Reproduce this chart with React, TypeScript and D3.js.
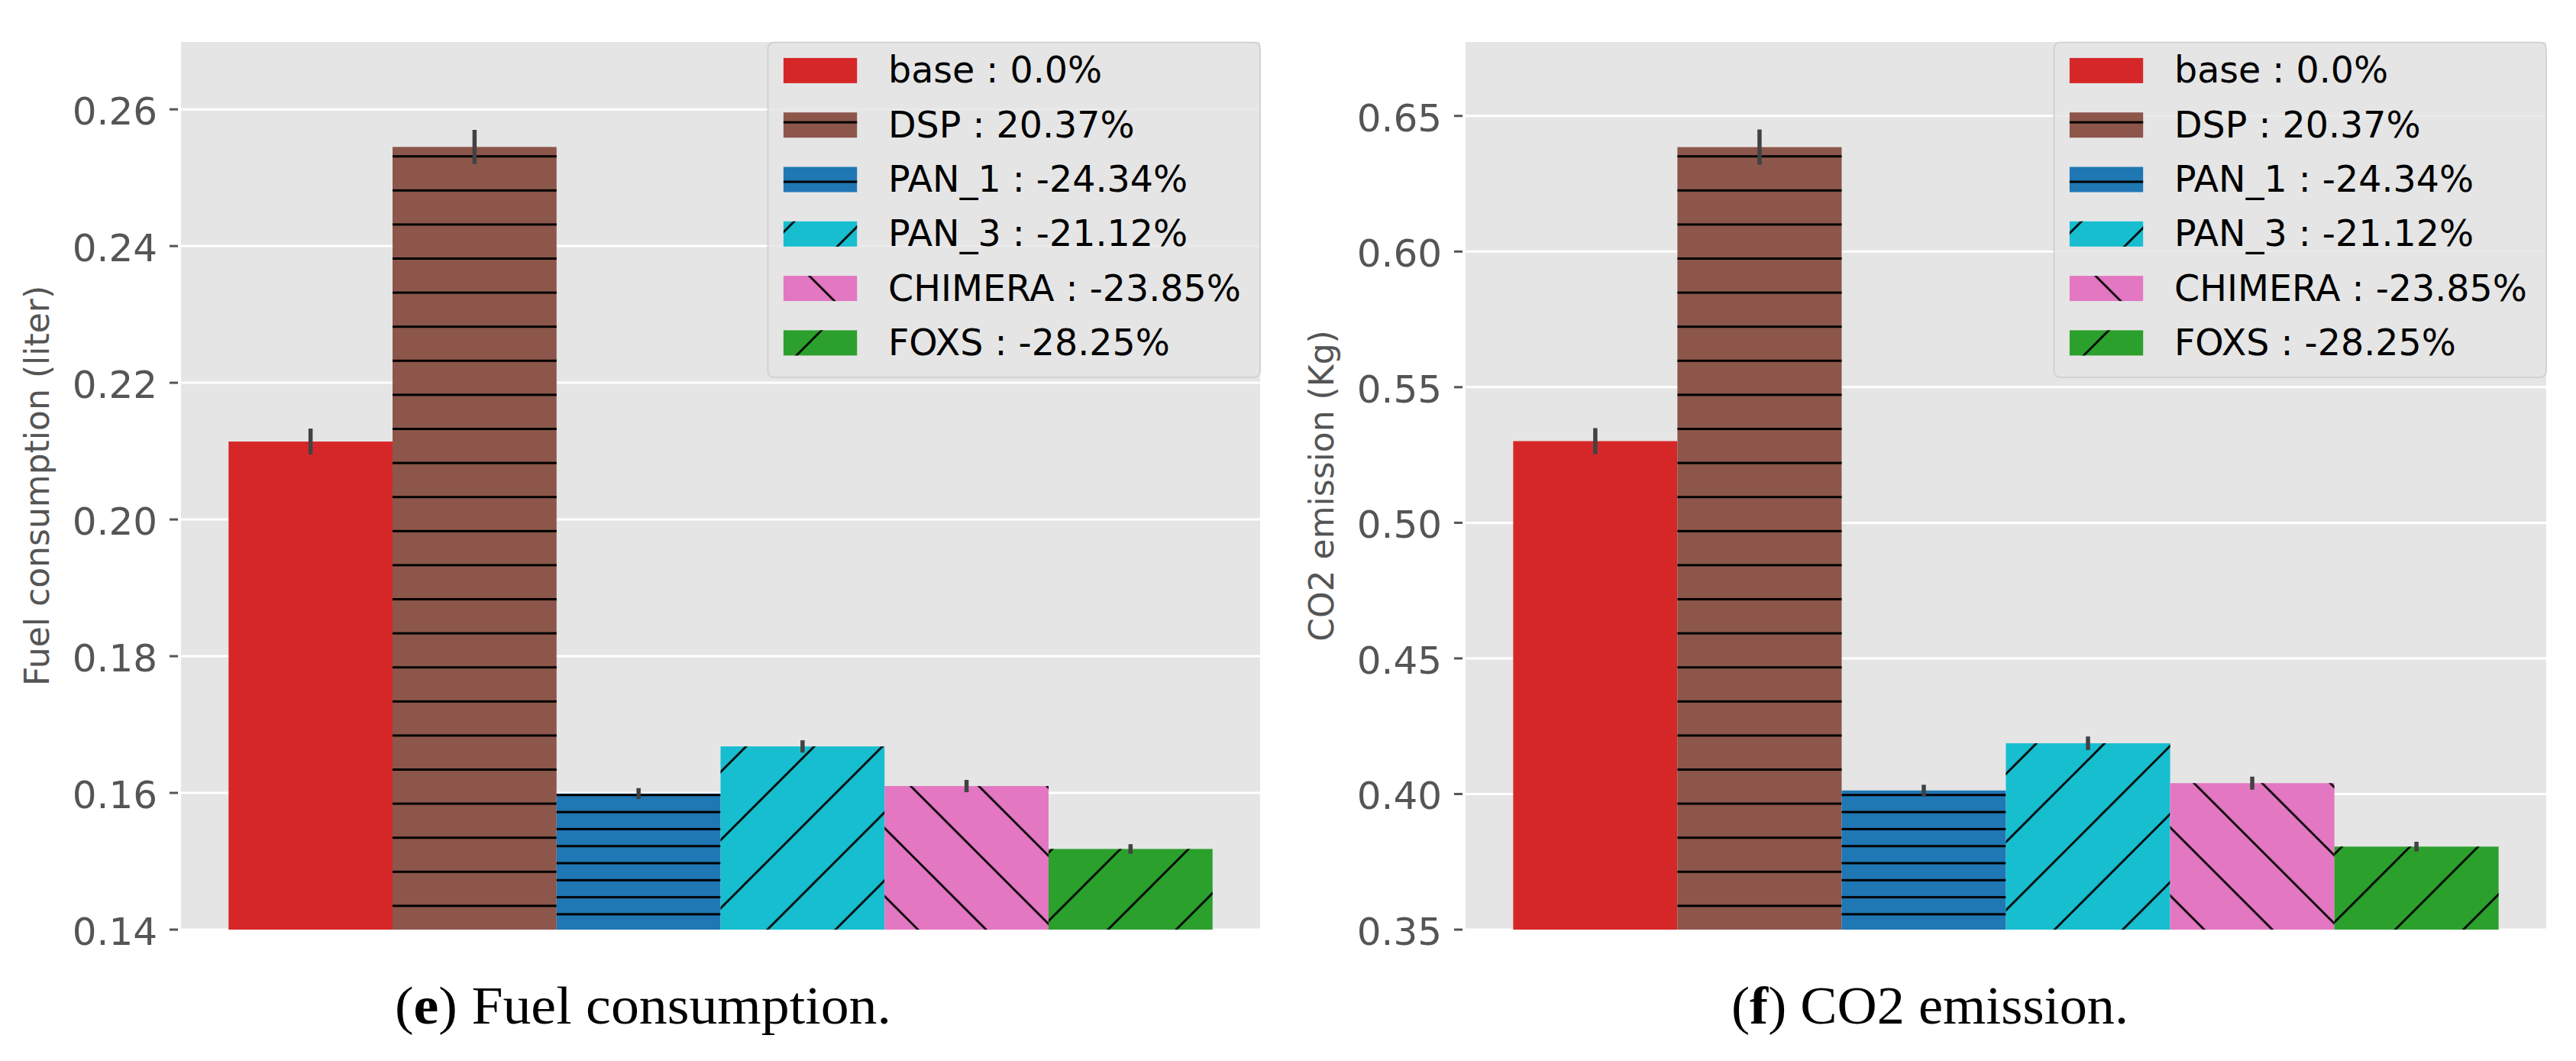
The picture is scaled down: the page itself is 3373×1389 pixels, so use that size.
import { useEffect, useRef } from "react";
import * as d3 from "d3";

const categories = ["base", "DSP", "PAN_1", "PAN_3", "CHIMERA", "FOXS"];
const percentLabels = ["0.0%", "20.37%", "-24.34%", "-21.12%", "-23.85%", "-28.25%"];
const barColors = ["#d62728", "#8c564b", "#1f77b4", "#17becf", "#e377c2", "#2ca02c"];
const hatches = ["", "--", "----", "/", "\\", "/"];

const fuelMeans = [0.2114, 0.2545, 0.1599, 0.1668, 0.161, 0.1518];
const fuelErrs = [0.0019, 0.0025, 0.0008, 0.0009, 0.0009, 0.0007];
const fuelTicks = [0.14, 0.16, 0.18, 0.2, 0.22, 0.24, 0.26];

const co2Means = [0.5301, 0.6385, 0.4013, 0.4187, 0.404, 0.3806];
const co2Errs = [0.0048, 0.0065, 0.0021, 0.0025, 0.0024, 0.0018];
const co2Ticks = [0.35, 0.4, 0.45, 0.5, 0.55, 0.6, 0.65];

const W = 3373;
const H = 1389;
const P = 89.2; // hatch period

const panels = [
  {
    key: "fuel",
    x0: 237,
    x1: 1650,
    yMin: 0.14,
    means: fuelMeans,
    errs: fuelErrs,
    ticks: fuelTicks,
    ylabel: "Fuel consumption (liter)",
    tag: "e",
    caption: " Fuel consumption.",
    capX: 517,
    capLen: 650,
    fwd: 81,
    back: 74.2,
  },
  {
    key: "co2",
    x0: 1919,
    x1: 3334,
    yMin: 0.35,
    means: co2Means,
    errs: co2Errs,
    ticks: co2Ticks,
    ylabel: "CO2 emission (Kg)",
    tag: "f",
    caption: " CO2 emission.",
    capX: 2267,
    capLen: 520,
    fwd: 71.7,
    back: 63.6,
  },
];

export default function App() {
  const svgRef = useRef<SVGSVGElement>(null);

  useEffect(() => {
    if (!svgRef.current) return;
    const svg = d3.select(svgRef.current);
    svg.selectAll("*").remove();

    const top = 55;
    const bottom = 1217;
    const font = "DejaVu Sans";
    const defs = svg.append("defs");

    panels.forEach((p) => {
      // hatch patterns, anchored in page space like matplotlib's
      const hz = (id: string, h: number, phase: number) => {
        const pat = defs
          .append("pattern")
          .attr("id", id)
          .attr("patternUnits", "userSpaceOnUse")
          .attr("x", 0)
          .attr("y", phase - h / 2)
          .attr("width", 50)
          .attr("height", h);
        pat.append("rect").attr("x", 0).attr("y", h / 2 - 1.5).attr("width", 50).attr("height", 3).attr("fill", "#000");
      };
      hz(`${p.key}-h2`, P / 2, 26.3);
      hz(`${p.key}-h4`, P / 4, 15);

      const fwd = defs
        .append("pattern")
        .attr("id", `${p.key}-fwd`)
        .attr("patternUnits", "userSpaceOnUse")
        .attr("x", p.fwd)
        .attr("y", 0)
        .attr("width", P)
        .attr("height", P);
      fwd
        .append("path")
        .attr("d", `M-3,3L3,-3M0,${P}L${P},0M${P - 3},${P + 3}L${P + 3},${P - 3}`)
        .attr("stroke", "#000")
        .attr("stroke-width", 2.7);

      const back = defs
        .append("pattern")
        .attr("id", `${p.key}-back`)
        .attr("patternUnits", "userSpaceOnUse")
        .attr("x", p.back)
        .attr("y", 0)
        .attr("width", P)
        .attr("height", P);
      back
        .append("path")
        .attr("d", `M0,0L${P},${P}M${P - 3},-3L${P + 3},3M-3,${P - 3}L3,${P + 3}`)
        .attr("stroke", "#000")
        .attr("stroke-width", 2.7);

      const hatchFill = (h: string) =>
        h === "--" ? `url(#${p.key}-h2)` : h === "----" ? `url(#${p.key}-h4)` : h === "/" ? `url(#${p.key}-fwd)` : h === "\\" ? `url(#${p.key}-back)` : null;

      const yMax = d3.max(p.means.map((m, i) => m + p.errs[i])) as number * 1.05;
      const x = d3.scaleBand<string>().domain(categories).range([p.x0, p.x1]).paddingInner(0).paddingOuter(0.29);
      const y = d3.scaleLinear().domain([p.yMin, yMax]).range([bottom, top]);

      const g = svg.append("g");

      g.append("rect")
        .attr("x", p.x0)
        .attr("y", top)
        .attr("width", p.x1 - p.x0)
        .attr("height", bottom - top)
        .attr("fill", "#e5e5e5");

      // grid
      g.selectAll(".grid")
        .data(p.ticks)
        .join("line")
        .attr("x1", p.x0)
        .attr("x2", p.x1)
        .attr("y1", (d) => y(d))
        .attr("y2", (d) => y(d))
        .attr("stroke", "#fff")
        .attr("stroke-width", 3);

      // ticks + labels
      g.selectAll(".tick")
        .data(p.ticks)
        .join("line")
        .attr("x1", p.x0 - 15)
        .attr("x2", p.x0 - 4)
        .attr("y1", (d) => y(d))
        .attr("y2", (d) => y(d))
        .attr("stroke", "#555")
        .attr("stroke-width", 3);

      g.selectAll(".ticklabel")
        .data(p.ticks)
        .join("text")
        .attr("x", p.x0 - 31)
        .attr("y", (d) => y(d) + 20)
        .attr("text-anchor", "end")
        .attr("font-family", font)
        .attr("font-size", 50)
        .attr("fill", "#555")
        .text((d) => d.toFixed(2));

      const ylx = p.x0 - 173;
      g.append("text")
        .attr("transform", `translate(${ylx},${(top + bottom) / 2}) rotate(-90)`)
        .attr("text-anchor", "middle")
        .attr("font-family", font)
        .attr("font-size", 44)
        .attr("fill", "#555")
        .text(p.ylabel);

      // bars
      categories.forEach((c, i) => {
        const bx = x(c) as number;
        const bw = x.bandwidth();
        const by = y(p.means[i]);
        g.append("rect").attr("x", bx).attr("y", by).attr("width", bw).attr("height", bottom - by).attr("fill", barColors[i]);
        const hf = hatchFill(hatches[i]);
        if (hf) g.append("rect").attr("x", bx).attr("y", by).attr("width", bw).attr("height", bottom - by).attr("fill", hf);
      });

      // error bars
      categories.forEach((c, i) => {
        const cx = (x(c) as number) + x.bandwidth() / 2;
        g.append("line")
          .attr("x1", cx)
          .attr("x2", cx)
          .attr("y1", y(p.means[i] - p.errs[i]))
          .attr("y2", y(p.means[i] + p.errs[i]))
          .attr("stroke", "#424242")
          .attr("stroke-width", 5.5);
      });

      // legend
      const lw = 644.5;
      const lx = p.x1 - lw;
      const ly = top + 0.5;
      g.append("rect")
        .attr("x", lx)
        .attr("y", ly)
        .attr("width", lw)
        .attr("height", 438.5)
        .attr("rx", 8)
        .attr("fill", "#e5e5e5")
        .attr("fill-opacity", 0.8)
        .attr("stroke", "#cccccc")
        .attr("stroke-opacity", 0.8)
        .attr("stroke-width", 2);

      categories.forEach((c, i) => {
        const hy = 75.9 + i * 71.3;
        g.append("rect").attr("x", lx + 20.4).attr("y", hy).attr("width", 96.3).attr("height", 33).attr("fill", barColors[i]);
        const hf = hatchFill(hatches[i]);
        if (hf) g.append("rect").attr("x", lx + 20.4).attr("y", hy).attr("width", 96.3).attr("height", 33).attr("fill", hf);
        g.append("text")
          .attr("x", lx + 157.5)
          .attr("y", hy + 32.5)
          .attr("font-family", font)
          .attr("font-size", 47.5)
          .attr("fill", "#000")
          .text(`${c} : ${percentLabels[i]}`);
      });

      // caption
      const cap = svg
        .append("text")
        .attr("x", p.capX)
        .attr("y", 1340)
        .attr("font-family", "Liberation Serif")
        .attr("font-size", 70)
        .attr("fill", "#000")
        .attr("textLength", p.capLen)
        .attr("lengthAdjust", "spacingAndGlyphs");
      cap.append("tspan").text("(");
      cap.append("tspan").attr("font-weight", "bold").text(p.tag);
      cap.append("tspan").text(")" + p.caption);
    });
  }, []);

  return (
    <svg
      ref={svgRef}
      width={W}
      height={H}
      viewBox={`0 0 ${W} ${H}`}
      style={{ position: "absolute", left: 0, top: 0, background: "#fff" }}
    />
  );
}
